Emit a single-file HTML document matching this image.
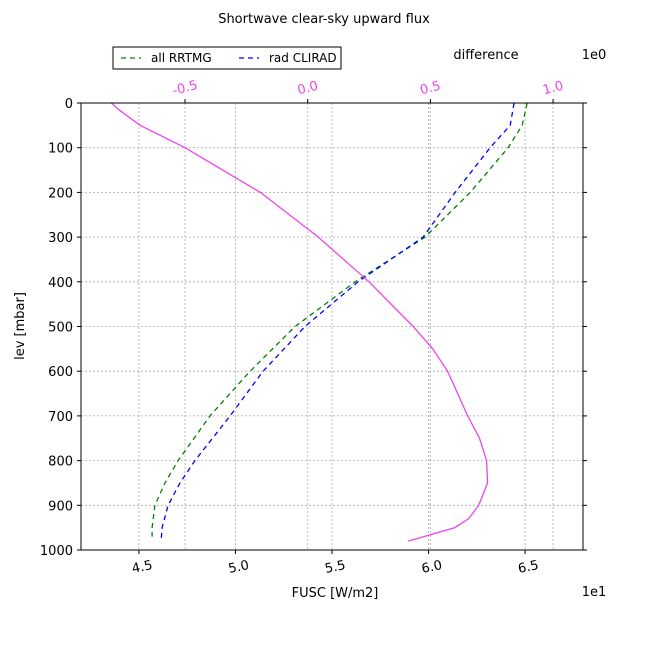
<!DOCTYPE html>
<html><head><meta charset="utf-8"><style>
html,body{margin:0;padding:0;background:#fff;}
svg text{font-family:"DejaVu Sans","Liberation Sans",sans-serif;}
</style></head><body>
<svg id="chart" width="648" height="648" xmlns="http://www.w3.org/2000/svg">
<rect width="648" height="648" fill="#fff"/>
<text x="324" y="23" font-size="13" text-anchor="middle">Shortwave clear-sky upward flux</text>
<g id="grid"></g>
<g id="series"></g>
<rect x="81" y="103" width="502" height="447" fill="none" stroke="#000" stroke-width="1"/>
<g id="axes"></g>
<text x="335" y="597" font-size="13" text-anchor="middle">FUSC [W/m2]</text>
<text x="594" y="596" font-size="13" text-anchor="middle">1e1</text>
<text x="486" y="59" font-size="13" text-anchor="middle">difference</text>
<text x="594" y="59" font-size="13" text-anchor="middle">1e0</text>
<text transform="translate(24,326) rotate(-90)" font-size="13" text-anchor="middle">lev [mbar]</text>
<g>
<rect x="113" y="47" width="228" height="22" fill="#fff" stroke="#000"/>
<line x1="121" y1="58" x2="141" y2="58" stroke="green" stroke-dasharray="5,4" stroke-width="1.3"/>
<text x="151" y="62" font-size="12">all RRTMG</text>
<line x1="239" y1="58" x2="259" y2="58" stroke="blue" stroke-dasharray="5,4" stroke-width="1.3"/>
<text x="269" y="62" font-size="12">rad CLIRAD</text>
</g>
</svg>
<script>
const levels = [0,50,100,200,300,400,500,600,700,800,850,900,950,970];
const rrtmg = [6.511,6.485,6.412,6.216,5.982,5.62,5.309,5.076,4.868,4.703,4.635,4.583,4.568,4.568];
const clLevels = [0,50,100,200,300,400,500,600,700,800,850,900,950,980];
const clirad = [6.443,6.423,6.319,6.138,5.972,5.635,5.36,5.143,4.972,4.79,4.713,4.651,4.62,4.615];
const diffLevels = [0,15,50,100,200,300,400,500,550,600,700,750,800,850,900,930,950,980];
const diff = [-0.80,-0.77,-0.683,-0.50,-0.193,0.043,0.25,0.43,0.51,0.57,0.652,0.70,0.729,0.733,0.697,0.656,0.60,0.41];
const xTicks = [4.5,5.0,5.5,6.0,6.5];
const xTickLabels = ["4.5","5.0","5.5","6.0","6.5"];
const topTicks = [-0.5,0.0,0.5,1.0];
const topTickLabels = ["-0.5","0.0","0.5","1.0"];
const yTicks = [0,100,200,300,400,500,600,700,800,900,1000];

const L=81,R=583,T=103,B=550;
const xs=v=>L+(v-4.2)/(6.8-4.2)*(R-L);
const xt=v=>L+(v+0.924)/(1.122+0.924)*(R-L);
const ys=v=>T+v/1000*(B-T);
const NS="http://www.w3.org/2000/svg";
function mk(tag,attrs,parent){const e=document.createElementNS(NS,tag);for(const k in attrs)e.setAttribute(k,attrs[k]);parent.appendChild(e);return e;}
const grid=document.getElementById('grid'),axes=document.getElementById('axes'),series=document.getElementById('series');
const gs={stroke:"#aaa","stroke-dasharray":"2,2","stroke-width":0.8};
xTicks.forEach((v,i)=>{const x=xs(v);
 const g=mk('line',Object.assign({x1:x,x2:x,y1:T,y2:B},gs),grid);
 
 mk('line',{x1:x,x2:x,y1:B,y2:B+4,stroke:"#000"},axes);
 const t=mk('text',{x:x+3,y:B+21,"font-size":13,"text-anchor":"middle",transform:`rotate(-12 ${x+3} ${B+16})`},axes);
 t.textContent=xTickLabels[i];
 });
topTicks.forEach((v,i)=>{const x=xt(v);
 const g=mk('line',Object.assign({x1:x,x2:x,y1:T,y2:B},gs),grid);
 
 mk('line',{x1:x,x2:x,y1:T,y2:T-4,stroke:"#000"},axes);
 const t=mk('text',{x:x,y:T-11,"font-size":13,"text-anchor":"middle",fill:"#ee44ee",transform:`rotate(-15 ${x} ${T-15})`},axes);
 t.textContent=topTickLabels[i];
 });
yTicks.forEach(v=>{const y=ys(v);
 if(v>0&&v<1000){const g=mk('line',Object.assign({x1:L,x2:R,y1:y,y2:y},gs),grid);
 }
 mk('line',{x1:L-4,x2:L,y1:y,y2:y,stroke:"#000"},axes);
 mk('line',{x1:R,x2:R+4,y1:y,y2:y,stroke:"#000"},axes);
 const t=mk('text',{x:L-8,y:y+5,"font-size":13,"text-anchor":"end"},axes);
 t.textContent=String(v);
 });
function line(xv,yv,fx,color,dash,name){
 const d=xv.map((v,i)=>(i?'L':'M')+fx(v).toFixed(1)+','+ys(yv[i]).toFixed(1)).join('');
 const p=mk('path',{d:d,fill:"none",stroke:color,"stroke-width":1.3},series);
 if(dash)p.setAttribute('stroke-dasharray',dash);
 }
line(rrtmg,levels,xs,"green","5,4","rrtmg-line");
line(clirad,clLevels,xs,"blue","5,4","clirad-line");
line(diff,diffLevels,xt,"#ee44ee",null,"difference-line");
</script>
</body></html>
